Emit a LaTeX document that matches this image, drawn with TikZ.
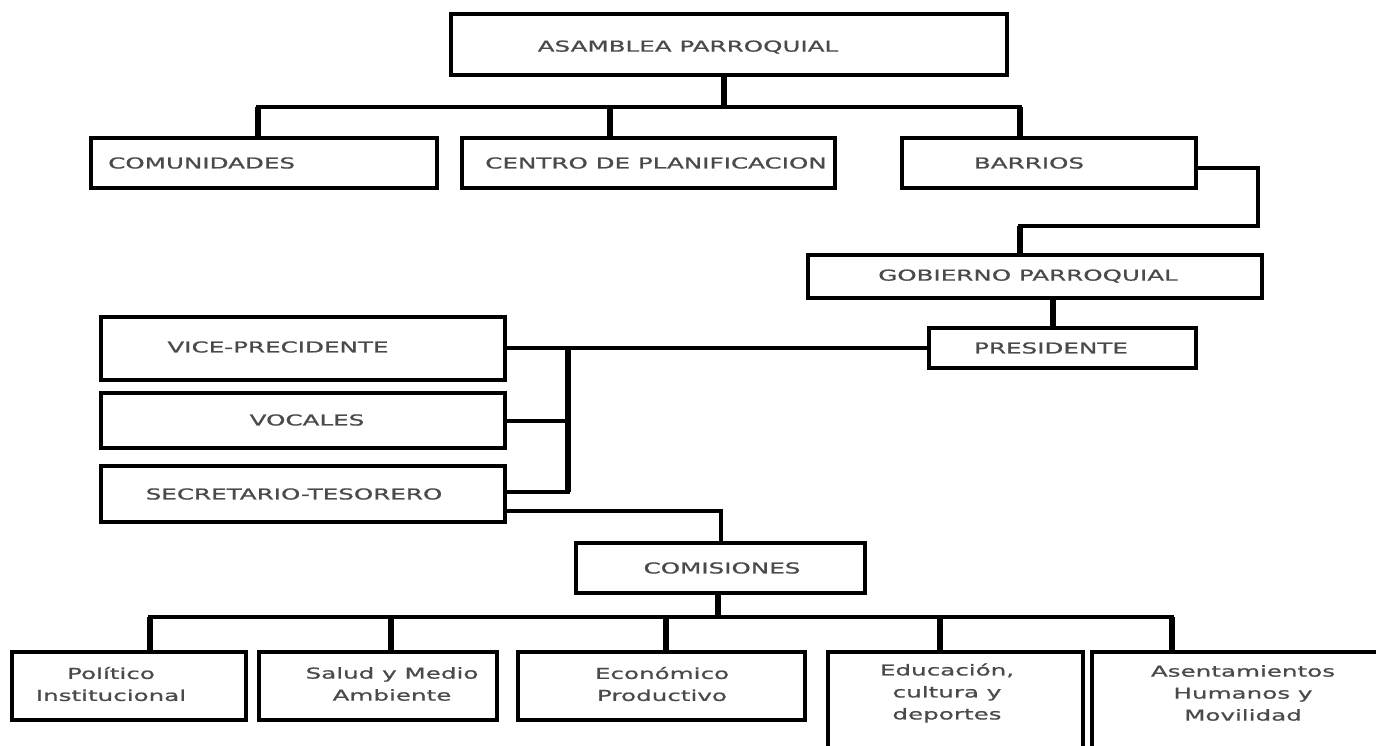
\documentclass[tikz,border=0pt]{standalone}
\usepackage{fontspec}
\newfontfamily\orgfont[FakeStretch=1.64,FakeBold=0.9]{DejaVu Sans}
\usetikzlibrary{calc}
\definecolor{txtgray}{HTML}{4A4A4A}
\tikzset{
  box/.style={draw=black, line width=3.5pt, fill=white, inner sep=0pt},
  txt/.style={text=txtgray, font=\orgfont\fontsize{15}{22}\selectfont, align=center, inner sep=0pt},
  conn/.style={line width=4pt, line cap=rect},
  drop/.style={line width=6pt}
}
\begin{document}
\begin{tikzpicture}[x=1pt,y=-1pt]
\clip (0,0) rectangle (1376,745);
\fill[white] (0,0) rectangle (1376,745);
% boxes
\node[box, minimum width=556, minimum height=61] (asam) at (729,44.5) {};
\node[box, minimum width=346, minimum height=50] (com) at (264,163) {};
\node[box, minimum width=373, minimum height=50] (cen) at (648.5,163) {};
\node[box, minimum width=294, minimum height=50] (bar) at (1049,163) {};
\node[box, minimum width=454, minimum height=43] (gob) at (1035,276.5) {};
\node[box, minimum width=267, minimum height=40] (pres) at (1062.5,348) {};
\node[box, minimum width=404, minimum height=63] (vice) at (303,348.5) {};
\node[box, minimum width=404, minimum height=55] (voc) at (303,420.5) {};
\node[box, minimum width=404, minimum height=56] (sec) at (303,494) {};
\node[box, minimum width=289, minimum height=50] (comi) at (720.5,568) {};
\node[box, minimum width=234, minimum height=68] (pol) at (129,686) {};
\node[box, minimum width=238, minimum height=68] (sal) at (378,686) {};
\node[box, minimum width=287, minimum height=68] (eco) at (661.5,686) {};
\node[box, minimum width=255, minimum height=118] (edu) at (955.5,711) {};
\node[box, minimum width=293, minimum height=118] (ase) at (1238.5,711) {};
% junction coordinates
\coordinate (a1) at (724,107);
\coordinate (bL) at (258,107);
\coordinate (bM) at (610,107);
\coordinate (bR) at (1020,107);
\coordinate (r1) at (1258,226);
\coordinate (r2) at (1020,226);
\coordinate (gp) at (1053,310);
\coordinate (sp1) at (568,350);
\coordinate (sp2) at (568,492);
\coordinate (cb) at (718,617);
\coordinate (k1) at (150,617);
\coordinate (k2) at (391,617);
\coordinate (k3) at (666,617);
\coordinate (k4) at (940,617);
\coordinate (k5) at (1172,617);
% connectors
\draw[conn] (bL) -- (bR);
\draw[drop] (a1 |- asam.south) -- (a1);
\draw[drop] (bL) -- (bL |- com.north);
\draw[drop] (bM) -- (bM |- cen.north);
\draw[drop] (bR) -- (bR |- bar.north);
\draw[conn] ([yshift=-5pt]bar.east) -| (r1) -- (r2);
\draw[drop] (r2) -- (r2 |- gob.north);
\draw[drop] (gp |- gob.south) -- (gp |- pres.north);
\draw[conn] (pres.west) -- (pres.west -| vice.east);
\draw[drop] (sp1) -- (sp2);
\draw[conn] (sp2) -- (sp2 -| sec.east);
\draw[conn] (voc.east) -- (voc.east -| sp1);
\draw[conn] ([yshift=-17pt]sec.east) -| (comi.north);
\draw[drop] (comi.south -| cb) -- (cb);
\draw[conn] (k1) -- (k5);
\draw[drop] (k1) -- (k1 |- pol.north);
\draw[drop] (k2) -- (k2 |- sal.north);
\draw[drop] (k3) -- (k3 |- eco.north);
\draw[drop] (k4) -- (k4 |- edu.north);
\draw[drop] (k5) -- (k5 |- ase.north);
% texts
\node[txt] (asamt) at (688,47) {ASAMBLEA PARROQUIAL};
\node[txt, anchor=west] (comt) at (108,163) {COMUNIDADES};
\node[txt] (cent) at (656,163) {CENTRO DE PLANIFICACION};
\node[txt] (bart) at (1029,163) {BARRIOS};
\node[txt] (gobt) at (1028,276) {GOBIERNO PARROQUIAL};
\node[txt] (prest) at (1051,348) {PRESIDENTE};
\node[txt] (vicet) at (278,347) {VICE-PRECIDENTE};
\node[txt] (voct) at (307,420) {VOCALES};
\node[txt] (sect) at (294,494) {SECRETARIO-TESORERO};
\node[txt] (comit) at (722,568) {COMISIONES};
\node[txt] (polt) at (111,684) {Político\\Institucional};
\node[txt] (salt) at (392,684) {Salud y Medio\\Ambiente};
\node[txt] (ecot) at (662,684) {Económico\\Productivo};
\node[txt] (edut) at (947,693) {Educación,\\cultura y\\deportes};
\node[txt] (aset) at (1243,693) {Asentamientos\\Humanos y\\Movilidad};
\end{tikzpicture}
\end{document}
